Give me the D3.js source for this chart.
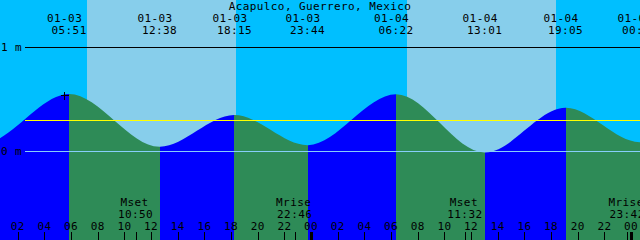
<!DOCTYPE html>
<html><head><meta charset="utf-8">
<script src="https://cdn.jsdelivr.net/npm/d3@7"></script>
<style>html,body{margin:0;padding:0;background:#00bfff;overflow:hidden}svg{display:block}</style>
</head><body>
<script>
const title = "Acapulco, Guerrero, Mexico";
const domainTimes = ["2024-01-03 00:40", "2024-01-05 00:40"];
const tideTimes = ["2024-01-02 17:30","2024-01-02 23:15","2024-01-03 05:51","2024-01-03 12:38","2024-01-03 18:15","2024-01-03 23:44","2024-01-04 06:22","2024-01-04 13:01","2024-01-04 19:05","2024-01-05 00:38","2024-01-05 06:55"];
const tideHeights = [0.3, 0.07, 0.553, 0.045, 0.35, 0.06, 0.55, -0.01, 0.42, 0.09, 0.55];
const labeledTide = [2,3,4,5,6,7,8,9];
const sunrise = ["2024-01-03 07:11","2024-01-04 07:12"];
const sunset  = ["2024-01-03 18:22","2024-01-04 18:23"];
const moonNames = ["Mset","Mrise","Mset","Mrise"];
const moonTimes = ["2024-01-03 10:50","2024-01-03 22:46","2024-01-04 11:32","2024-01-04 23:42"];
const levelValues = [0, 1];
const levelLabels = ["0 m", "1 m"];
const meanLevel = 0.3;
const nowMark = ["2024-01-03 05:26", 0.545];

const W = 640, H = 240;
const parse = d3.utcParse("%Y-%m-%d %H:%M");
const fmtDate = d3.utcFormat("%m-%d"), fmtTime = d3.utcFormat("%H:%M"), fmtHour = d3.utcFormat("%H");
const x = d3.scaleUtc().domain(domainTimes.map(parse)).range([0, W]);
const y = d3.scaleLinear().domain([0, 1]).range([151.5, 47.5]);
const font = "'DejaVu Sans Mono', monospace";

const svg = d3.select("body").append("svg").attr("width", W).attr("height", H)
  .style("font-family", font).style("font-size", "11px").style("letter-spacing", "0.4px");

svg.append("rect").attr("width", W).attr("height", H).attr("fill", "#00bfff");
// daylight
svg.selectAll("rect.day").data(sunrise.map((s,i)=>[parse(s), parse(sunset[i])])).join("rect")
  .attr("x", d=>Math.round(x(d[0]))).attr("width", d=>Math.round(x(d[1]))-Math.round(x(d[0])))
  .attr("y", 0).attr("height", H).attr("fill", "#87ceeb");

const tide = tideTimes.map((t,i)=>({t: parse(t), h: tideHeights[i]}));
const area = d3.area().x(d=>x(d.t)).y0(H).y1(d=>y(d.h)).curve(d3.curveMonotoneX);
const defs = svg.append("defs");
for (let i = 0; i < tide.length - 1; i++) {
  const x0 = Math.round(x(tide[i].t));
  const x1 = Math.round(x(tide[i+1].t));
  defs.append("clipPath").attr("id", "seg"+i).append("rect")
    .attr("x", x0).attr("y", 0).attr("width", x1 - x0).attr("height", H);
  svg.append("path").datum(tide).attr("d", area)
    .attr("fill", tide[i+1].h > tide[i].h ? "#0000ff" : "#2e8b57")
    .attr("clip-path", "url(#seg"+i+")");
}

// level lines
svg.append("line").attr("x1", 25).attr("x2", W).attr("y1", y(1)).attr("y2", y(1))
  .attr("stroke", "#000").attr("shape-rendering", "crispEdges");
svg.append("line").attr("x1", 25).attr("x2", W).attr("y1", y(0)).attr("y2", y(0))
  .attr("stroke", "#87cefa").attr("shape-rendering", "crispEdges");
svg.append("line").attr("x1", 25).attr("x2", W).attr("y1", Math.round(y(meanLevel))+0.5).attr("y2", Math.round(y(meanLevel))+0.5)
  .attr("stroke", "#ffff00").attr("shape-rendering", "crispEdges");
svg.selectAll("text.lvl").data(levelValues).join("text")
  .attr("x", 1).attr("y", d=>y(d)+3.5).attr("fill", "#000").text((d,i)=>levelLabels[i]);

// title
svg.append("text").attr("x", W/2).attr("y", 9.5).attr("text-anchor", "middle").text(title);
// tide labels
const ev = labeledTide.map(i=>tide[i]);
svg.selectAll("text.d").data(ev).join("text").attr("text-anchor", "middle")
  .attr("x", d=>x(d.t)-4.5).attr("y", 21.5).text(d=>fmtDate(d.t));
svg.selectAll("text.tm").data(ev).join("text").attr("text-anchor", "middle")
  .attr("x", d=>x(d.t)).attr("y", 34).text(d=>fmtTime(d.t));

// now mark
const nx = Math.round(x(parse(nowMark[0])))+0.5, ny = Math.round(y(nowMark[1]))+0.5;
svg.append("path").attr("d", `M${nx-4},${ny}H${nx+4}M${nx},${ny-4}V${ny+4}`)
  .attr("stroke", "#000").attr("shape-rendering", "crispEdges");

// hour axis
const hours = x.ticks(d3.utcHour.every(2));
svg.selectAll("text.hr").data(hours).join("text").attr("text-anchor", "middle")
  .attr("x", d=>x(d)).attr("y", 230).text(d=>fmtHour(d));
svg.selectAll("line.tk").data(hours).join("line")
  .attr("x1", d=>Math.round(x(d))+0.5).attr("x2", d=>Math.round(x(d))+0.5)
  .attr("y1", 232).attr("y2", H).attr("stroke", "#000")
  .attr("stroke-width", d=>d.getUTCHours()===0 ? 3 : 1).attr("shape-rendering", "crispEdges");

// moon events
const moon = moonTimes.map((t,i)=>({t: parse(t), n: moonNames[i]}));
svg.selectAll("text.mn").data(moon).join("text").attr("text-anchor", "middle")
  .attr("x", d=>x(d.t)-1).attr("y", 206).text(d=>d.n);
svg.selectAll("text.mt").data(moon).join("text").attr("text-anchor", "middle")
  .attr("x", d=>x(d.t)).attr("y", 218).text(d=>fmtTime(d.t));
svg.selectAll("line.mk").data(moon).join("line")
  .attr("x1", d=>Math.round(x(d.t))+0.5).attr("x2", d=>Math.round(x(d.t))+0.5)
  .attr("y1", 232).attr("y2", H).attr("stroke", "#000").attr("shape-rendering", "crispEdges");
</script>
</body></html>
